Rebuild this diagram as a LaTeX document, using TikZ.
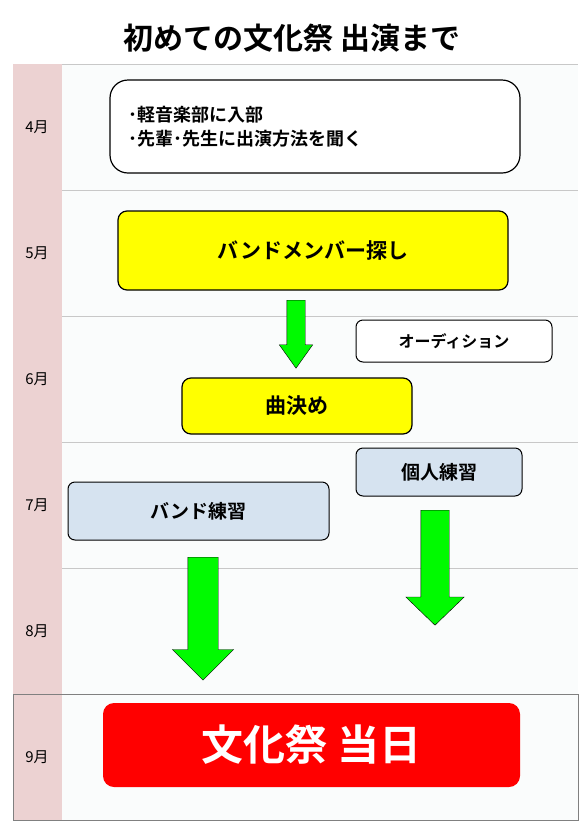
\documentclass[tikz,border=0pt]{standalone}
\usepackage{fontspec}
\newfontfamily\jpfont{Noto Sans CJK JP}[BoldFont={Noto Sans CJK JP Bold}]
\usetikzlibrary{
  shapes.arrows,%
  positioning
}
\definecolor{monthpink}{RGB}{236,210,210}
\definecolor{tablebg}{RGB}{250,252,252}
\definecolor{rowline}{RGB}{200,200,200}
\definecolor{boxyellow}{RGB}{255,255,0}
\definecolor{boxblue}{RGB}{214,227,240}
\definecolor{arrowgreen}{RGB}{0,250,0}
\definecolor{festred}{RGB}{255,0,0}
\tikzset{>=latex}
\tikzset{
  stepnote/.style={draw=black, line width=1.2pt, fill=white, rounded corners=18pt,
    font=\jpfont\bfseries\fontsize{18}{24}\selectfont, align=left},
  yellowbox/.style={draw=black, line width=1.2pt, fill=boxyellow, rounded corners=9pt,
    font=\jpfont\bfseries\fontsize{21}{24}\selectfont},
  whitebox/.style={draw=black, line width=1pt, fill=white, rounded corners=7pt,
    font=\jpfont\bfseries\fontsize{16}{20}\selectfont},
  bluebox/.style={draw=black, line width=1pt, fill=boxblue, rounded corners=7pt,
    font=\jpfont\bfseries\fontsize{19}{22}\selectfont},
  festbox/.style={fill=festred, text=white, rounded corners=11pt,
    font=\jpfont\bfseries\fontsize{42}{44}\selectfont},
  downarrow/.style={shape=single arrow, draw=black, thin, fill=arrowgreen,
    rotate=-90, anchor=tail, inner xsep=0pt},
  monthlabel/.style={font=\jpfont\fontsize{15}{17}\selectfont},
}

\begin{document}
\begin{tikzpicture}[x=1pt, y=-1pt]
  \useasboundingbox (0,0) rectangle (580,828);
  \fill[white] (0,0) rectangle (580,828);
  \node[font=\jpfont\bfseries\fontsize{30}{32}\selectfont] (title) at (292,38)
    {初めての文化祭 出演まで};
  % month table
  \fill[tablebg] (62,64) rectangle (578,820);
  \fill[monthpink] (13,64) rectangle (62,820);
  \foreach \y in {64,190,...,694}
    \draw[rowline, thin] (62,\y) -- (578,\y);
  \foreach \m [count=\i from 0] in {4,...,9}
    \node[monthlabel] (month\m) at (37,{127+126*\i}) {{\m}月};
  \draw[gray, thin] (13,694) rectangle (578,820);
  % steps
  \node[stepnote, text width=374pt, inner xsep=18pt, minimum height=93pt] (join) at (315,126.5)
    {･軽音楽部に入部\\･先輩･先生に出演方法を聞く};
  \node[yellowbox, minimum width=390pt, minimum height=79pt] (members) at (313,250.5)
    {バンドメンバー探し};
  \node[whitebox, minimum width=196pt, minimum height=42pt] (audition) at (454,341)
    {オーディション};
  \node[yellowbox, minimum width=230pt, minimum height=56pt] (songs) at (297,406)
    {曲決め};
  \node[bluebox, minimum width=166pt, minimum height=48pt] (solo) at (439,472)
    {個人練習};
  \node[bluebox, minimum width=261pt, minimum height=58pt] (band) at (198.5,511)
    {バンド練習};
  \node[festbox, minimum width=417pt, minimum height=84pt] (festival) at (311.5,745)
    {文化祭 当日};
  % green arrows
  \node[downarrow, minimum height=68pt, inner ysep=9pt,
    single arrow head extend=7.5pt, single arrow tip angle=71] (toSongs) at (296,300) {};
  \node[downarrow, minimum height=115pt, inner ysep=14pt,
    single arrow head extend=15pt, single arrow tip angle=92] (soloOn) at (435,510) {};
  \node[downarrow, minimum height=123pt, inner ysep=15pt,
    single arrow head extend=15.5pt, single arrow tip angle=90] (bandOn) at (203,557) {};
\end{tikzpicture}
\end{document}
